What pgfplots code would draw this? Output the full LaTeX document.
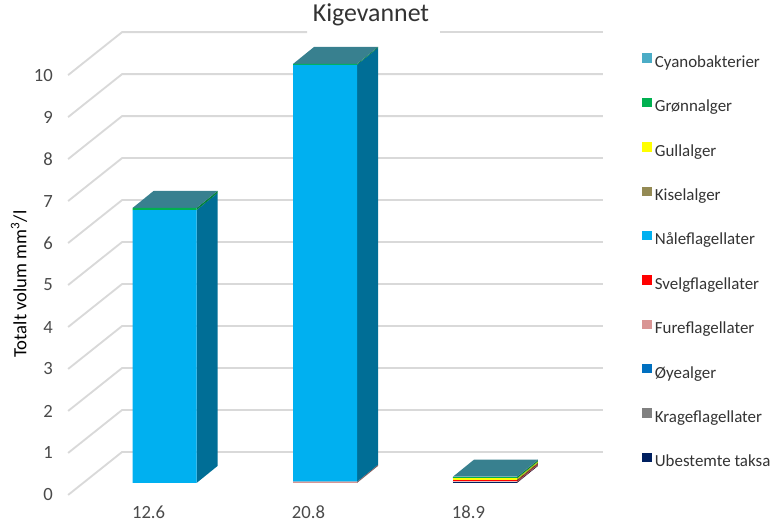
\documentclass[border=0pt]{standalone}
\usepackage{pgfplots}
\pgfplotsset{compat=1.18}
\usepackage{fontspec}
\setmainfont{Carlito}
\definecolor{cyano}{HTML}{4BACC6}
\definecolor{gronn}{HTML}{00B050}
\definecolor{gull}{HTML}{FFFF00}
\definecolor{kisel}{HTML}{948A54}
\definecolor{nale}{HTML}{00B0F0}
\definecolor{svelg}{HTML}{FF0000}
\definecolor{fure}{HTML}{D99594}
\definecolor{oye}{HTML}{0070C0}
\definecolor{krage}{HTML}{808080}
\definecolor{ubest}{HTML}{002060}
\definecolor{naleS}{HTML}{006E96}
\definecolor{gronnS}{HTML}{00803A}
\definecolor{fureS}{HTML}{876060}
\definecolor{ubestS}{HTML}{3A1030}
\definecolor{svelgS}{HTML}{A00000}
\definecolor{kiselS}{HTML}{5C5634}
\definecolor{gullS}{HTML}{B0D000}
\definecolor{cyanoS}{HTML}{2F6B7B}
\definecolor{cyanoT}{HTML}{38808F}
\definecolor{gridc}{HTML}{D9D9D9}
\definecolor{tickc}{HTML}{4A4A4A}
\definecolor{textc}{HTML}{333333}
\pgfplotsset{
  base/.style={scale only axis, width=580.5pt, height=393pt, xmin=0, xmax=774, clip=false},
  gl/.style={gridc, line width=1.4pt, mark=none},
  sq/.style={legend image code/.code={\fill[##1] (0pt,0pt) rectangle (7pt,7pt);}},
}
\begin{document}
\begin{tikzpicture}
% background: grid, ticks, labels
\begin{axis}[base, ymin=-0.6905, ymax=11.7857,
  axis line style={draw=none}, major tick length=0pt,
  ytick={0,1,...,10},
  xtick={148.5,308.5,468.5}, xticklabels={12.6,20.8,18.9},
  /pgf/number format/assume math mode=true,
  yticklabel style={anchor=east, xshift=39.75pt, inner sep=0pt, font=\fontsize{14}{16}\selectfont, text=tickc},
  xticklabel style={anchor=center, yshift=9pt, inner sep=0pt, font=\fontsize{14}{16}\selectfont, text=tickc},
  ylabel={Totalt volum mm\textsuperscript{3}/l},
  ylabel style={at={(rel axis cs:0.0245,0.458)}, anchor=center, inner sep=0pt, font=\fontsize{14}{16}\selectfont, text=black},
  title={Kigevannet},
  title style={at={(rel axis cs:0.4793,0.956)}, anchor=center, inner sep=0pt, font=\fontsize{19.4}{22}\selectfont, text=textc},
]
\addplot[gl] coordinates {(68,0) (122,1.024) (603,1.024)};
\addplot[gl] coordinates {(68,1) (122,2.024) (603,2.024)};
\addplot[gl] coordinates {(68,2) (122,3.024) (603,3.024)};
\addplot[gl] coordinates {(68,3) (122,4.024) (603,4.024)};
\addplot[gl] coordinates {(68,4) (122,5.024) (603,5.024)};
\addplot[gl] coordinates {(68,5) (122,6.024) (603,6.024)};
\addplot[gl] coordinates {(68,6) (122,7.024) (603,7.024)};
\addplot[gl] coordinates {(68,7) (122,8.024) (603,8.024)};
\addplot[gl] coordinates {(68,8) (122,9.024) (603,9.024)};
\addplot[gl] coordinates {(68,9) (122,10.024) (603,10.024)};
\addplot[gl] coordinates {(68,10) (122,11.024) (307,11.024)};
\addplot[gl] coordinates {(440,11.024) (603,11.024)};
\end{axis}
% side and top faces
\begin{axis}[base, ymin=-0.9762, ymax=11.5, hide axis]
% bar 1
\addplot[fill=naleS, draw=none] coordinates {(196.5,0) (217.5,0.405) (217.5,6.905) (196.5,6.50)} -- cycle;
\addplot[fill=gronnS, draw=none] coordinates {(196.5,6.50) (217.5,6.905) (217.5,6.955) (196.5,6.55)} -- cycle;
\addplot[fill=cyanoT, draw=none] coordinates {(132.5,6.55) (196.5,6.55) (217.5,6.955) (153.5,6.955)} -- cycle;
% bar 2
\addplot[fill=fureS, draw=none] coordinates {(357,0) (378,0.405) (378,0.435) (357,0.03)} -- cycle;
\addplot[fill=naleS, draw=none] coordinates {(357,0.03) (378,0.435) (378,10.365) (357,9.96)} -- cycle;
\addplot[fill=gronnS, draw=none] coordinates {(357,9.96) (378,10.365) (378,10.385) (357,9.98)} -- cycle;
\addplot[fill=cyanoT, draw=none] coordinates {(293,9.98) (357,9.98) (378,10.385) (314,10.385)} -- cycle;
% bar 3
\addplot[fill=ubestS, draw=none] coordinates {(517,0) (538,0.405) (538,0.425) (517,0.02)} -- cycle;
\addplot[fill=fureS, draw=none] coordinates {(517,0.02) (538,0.425) (538,0.445) (517,0.04)} -- cycle;
\addplot[fill=svelgS, draw=none] coordinates {(517,0.04) (538,0.445) (538,0.465) (517,0.06)} -- cycle;
\addplot[fill=kiselS, draw=none] coordinates {(517,0.06) (538,0.465) (538,0.485) (517,0.08)} -- cycle;
\addplot[fill=gullS, draw=none] coordinates {(517,0.08) (538,0.485) (538,0.515) (517,0.11)} -- cycle;
\addplot[fill=gronnS, draw=none] coordinates {(517,0.11) (538,0.515) (538,0.545) (517,0.14)} -- cycle;
\addplot[fill=cyanoS, draw=none] coordinates {(517,0.14) (538,0.545) (538,0.555) (517,0.15)} -- cycle;
\addplot[fill=cyanoT, draw=none] coordinates {(453,0.15) (517,0.15) (538,0.555) (474,0.555)} -- cycle;
\end{axis}
% front faces (stacked bars) and legend
\begin{axis}[base, ymin=-0.9762, ymax=11.5, hide axis,
  ybar stacked, bar width=64,
  reverse legend,
  legend cell align=left,
  legend style={draw=none, fill=none, inner sep=0pt, row sep=20.3pt, column sep=2.5pt,
    at={(rel axis cs:0.8295,0.8988)}, anchor=north west,
    font=\fontsize{12.7}{14}\selectfont, text=textc,
    nodes={inner sep=0pt, text height=9.5pt, text depth=2.5pt}},
]
\addplot[fill=ubest, draw=none, sq] coordinates {(164.5,0) (325,0) (485,0.02)};
\addlegendentry{Ubestemte taksa}
\addplot[fill=krage, draw=none, sq] coordinates {(164.5,0) (325,0) (485,0)};
\addlegendentry{Krageflagellater}
\addplot[fill=oye, draw=none, sq] coordinates {(164.5,0) (325,0) (485,0)};
\addlegendentry{Øyealger}
\addplot[fill=fure, draw=none, sq] coordinates {(164.5,0) (325,0.03) (485,0.02)};
\addlegendentry{Fureflagellater}
\addplot[fill=svelg, draw=none, sq] coordinates {(164.5,0) (325,0) (485,0.02)};
\addlegendentry{Svelgflagellater}
\addplot[fill=nale, draw=none, sq] coordinates {(164.5,6.50) (325,9.93) (485,0)};
\addlegendentry{Nåleflagellater}
\addplot[fill=kisel, draw=none, sq] coordinates {(164.5,0) (325,0) (485,0.02)};
\addlegendentry{Kiselalger}
\addplot[fill=gull, draw=none, sq] coordinates {(164.5,0) (325,0) (485,0.03)};
\addlegendentry{Gullalger}
\addplot[fill=gronn, draw=none, sq] coordinates {(164.5,0.05) (325,0.02) (485,0.03)};
\addlegendentry{Grønnalger}
\addplot[fill=cyano, draw=none, sq] coordinates {(164.5,0) (325,0) (485,0.01)};
\addlegendentry{Cyanobakterier}
\end{axis}
\end{tikzpicture}
\end{document}
